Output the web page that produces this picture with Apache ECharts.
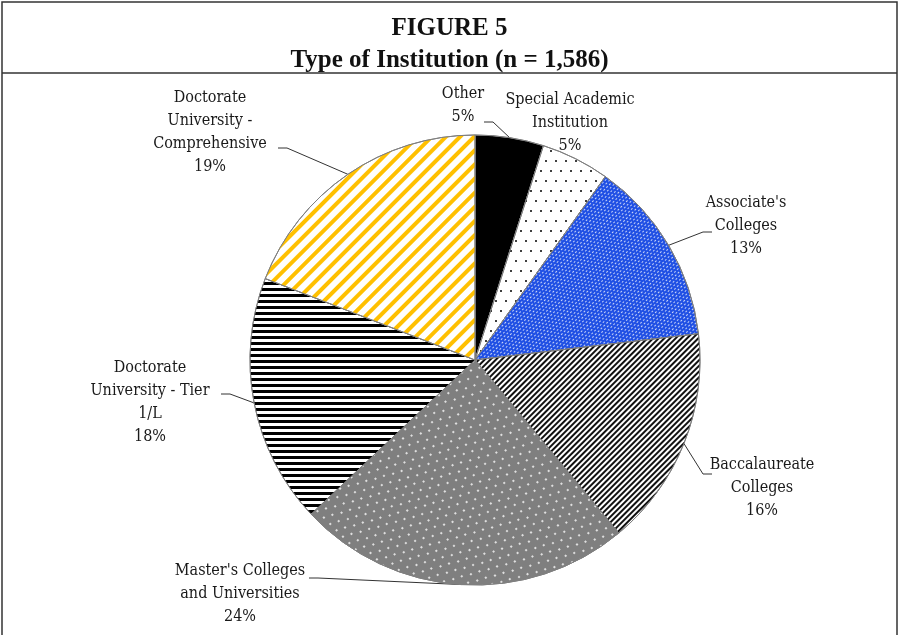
<!DOCTYPE html>
<html>
<head>
<meta charset="utf-8">
<script src="https://cdn.jsdelivr.net/npm/echarts@6/dist/echarts.min.js"></script>
<style>
  html, body { margin: 0; padding: 0; background: #fff; }
  #chart { width: 899px; height: 635px; }
</style>
</head>
<body>
<div id="chart"></div>
<script>
// data (counts, n = 1,586)
var categories = [
  "Other",
  "Special Academic\nInstitution",
  "Associate's\nColleges",
  "Baccalaureate\nColleges",
  "Master's Colleges\nand Universities",
  "Doctorate\nUniversity - Tier\n1/L",
  "Doctorate\nUniversity -\nComprehensive"
];
var counts = [78, 78, 211, 251, 381, 284, 303];
var titleLines = ["FIGURE 5", "Type of Institution (n = 1,586)"];

// label centre + where the leader line meets the text (layout only)
var labelSpots = [
  [463, 105, 484, 122],
  [570, 123, null, null],
  [746, 226, 712, 232],
  [762, 488, 712, 474],
  [240, 594, 309, 578],
  [150, 402, 221, 394],
  [210, 132, 278, 148]
];

var fills = ["#000000", "#ffffff", "#2050e4", "#ffffff", "#7f7f7f", "#ffffff", "#ffffff"];
var decals = [
  { symbol: "rect", color: "rgba(0,0,0,0)", dashArrayX: [1, 0], dashArrayY: [1, 0] },
  { symbol: "circle", symbolSize: 1, color: "#000", dashArrayX: [[1.6, 7.4], [0, 4.5, 1.6, 2.9]], dashArrayY: [1.6, 7.4] },
  { symbol: "rect", symbolSize: 1, color: "rgba(255,255,255,0.75)", dashArrayX: [[2, 2], [0, 2, 2, 0]], dashArrayY: [1, 2] },
  { symbol: "rect", symbolSize: 1, color: "#111", dashArrayX: [1, 0], dashArrayY: [1.3, 2], rotation: -Math.PI / 4 },
  { symbol: "circle", symbolSize: 1, color: "#fff", dashArrayX: [[1.4, 6.6], [0, 4, 1.4, 2.6]], dashArrayY: [1.4, 6] },
  { symbol: "rect", symbolSize: 1, color: "#000", dashArrayX: [1, 0], dashArrayY: [3, 2.2] },
  { symbol: "rect", symbolSize: 1, color: "#ffc000", dashArrayX: [1, 0], dashArrayY: [3.2, 5.2], rotation: -Math.PI / 4 }
];

var chart = echarts.init(document.getElementById("chart"));

var pieData = counts.map(function (v, i) {
  var item = {
    name: categories[i],
    value: v,
    itemStyle: { color: fills[i], decal: decals[i] }
  };
  if (labelSpots[i][2] == null) item.labelLine = { show: false };
  return item;
});

var option = {
  backgroundColor: "#ffffff",
  animation: false,
  aria: { enabled: true, decal: { show: true } },
  title: {
    text: titleLines.join("\n"),
    left: "center",
    top: 8,
    textStyle: {
      fontFamily: "Liberation Serif",
      fontWeight: "bold",
      fontSize: 25,
      lineHeight: 32,
      color: "#111"
    }
  },
  graphic: [
    {
      type: "rect",
      shape: { x: 2, y: 2, width: 895, height: 640 },
      style: { fill: null, stroke: "#333", lineWidth: 1.5 },
      silent: true
    },
    {
      type: "line",
      shape: { x1: 2, y1: 73, x2: 897, y2: 73 },
      style: { stroke: "#333", lineWidth: 1.5 },
      silent: true
    }
  ],
  series: [
    {
      type: "pie",
      center: [475, 360],
      radius: 225,
      startAngle: 90,
      clockwise: true,
      percentPrecision: 0,
      data: pieData,
      itemStyle: { borderColor: "#7f7f7f", borderWidth: 1 },
      label: {
        show: true,
        position: "outside",
        formatter: "{b}\n{d}%",
        fontFamily: "DejaVu Serif Condensed, DejaVu Serif",
        fontSize: 16,
        lineHeight: 23,
        color: "#1a1a1a"
      },
      labelLine: {
        show: true,
        length: 15,
        length2: 10,
        lineStyle: { color: "#333", width: 1 }
      },
      labelLayout: function (params) {
        var s = labelSpots[params.dataIndex];
        var out = { x: s[0], y: s[1], align: "center", verticalAlign: "middle" };
        var pts = params.labelLinePoints;
        if (s[2] != null && pts && pts.length) {
          var rim = pts[0];
          var dir = rim[0] > s[2] ? 1 : -1;
          out.labelLinePoints = [rim, [s[2] + dir * 9, s[3]], [s[2], s[3]]];
        }
        return out;
      }
    }
  ]
};

chart.setOption(option);
</script>
</body>
</html>
